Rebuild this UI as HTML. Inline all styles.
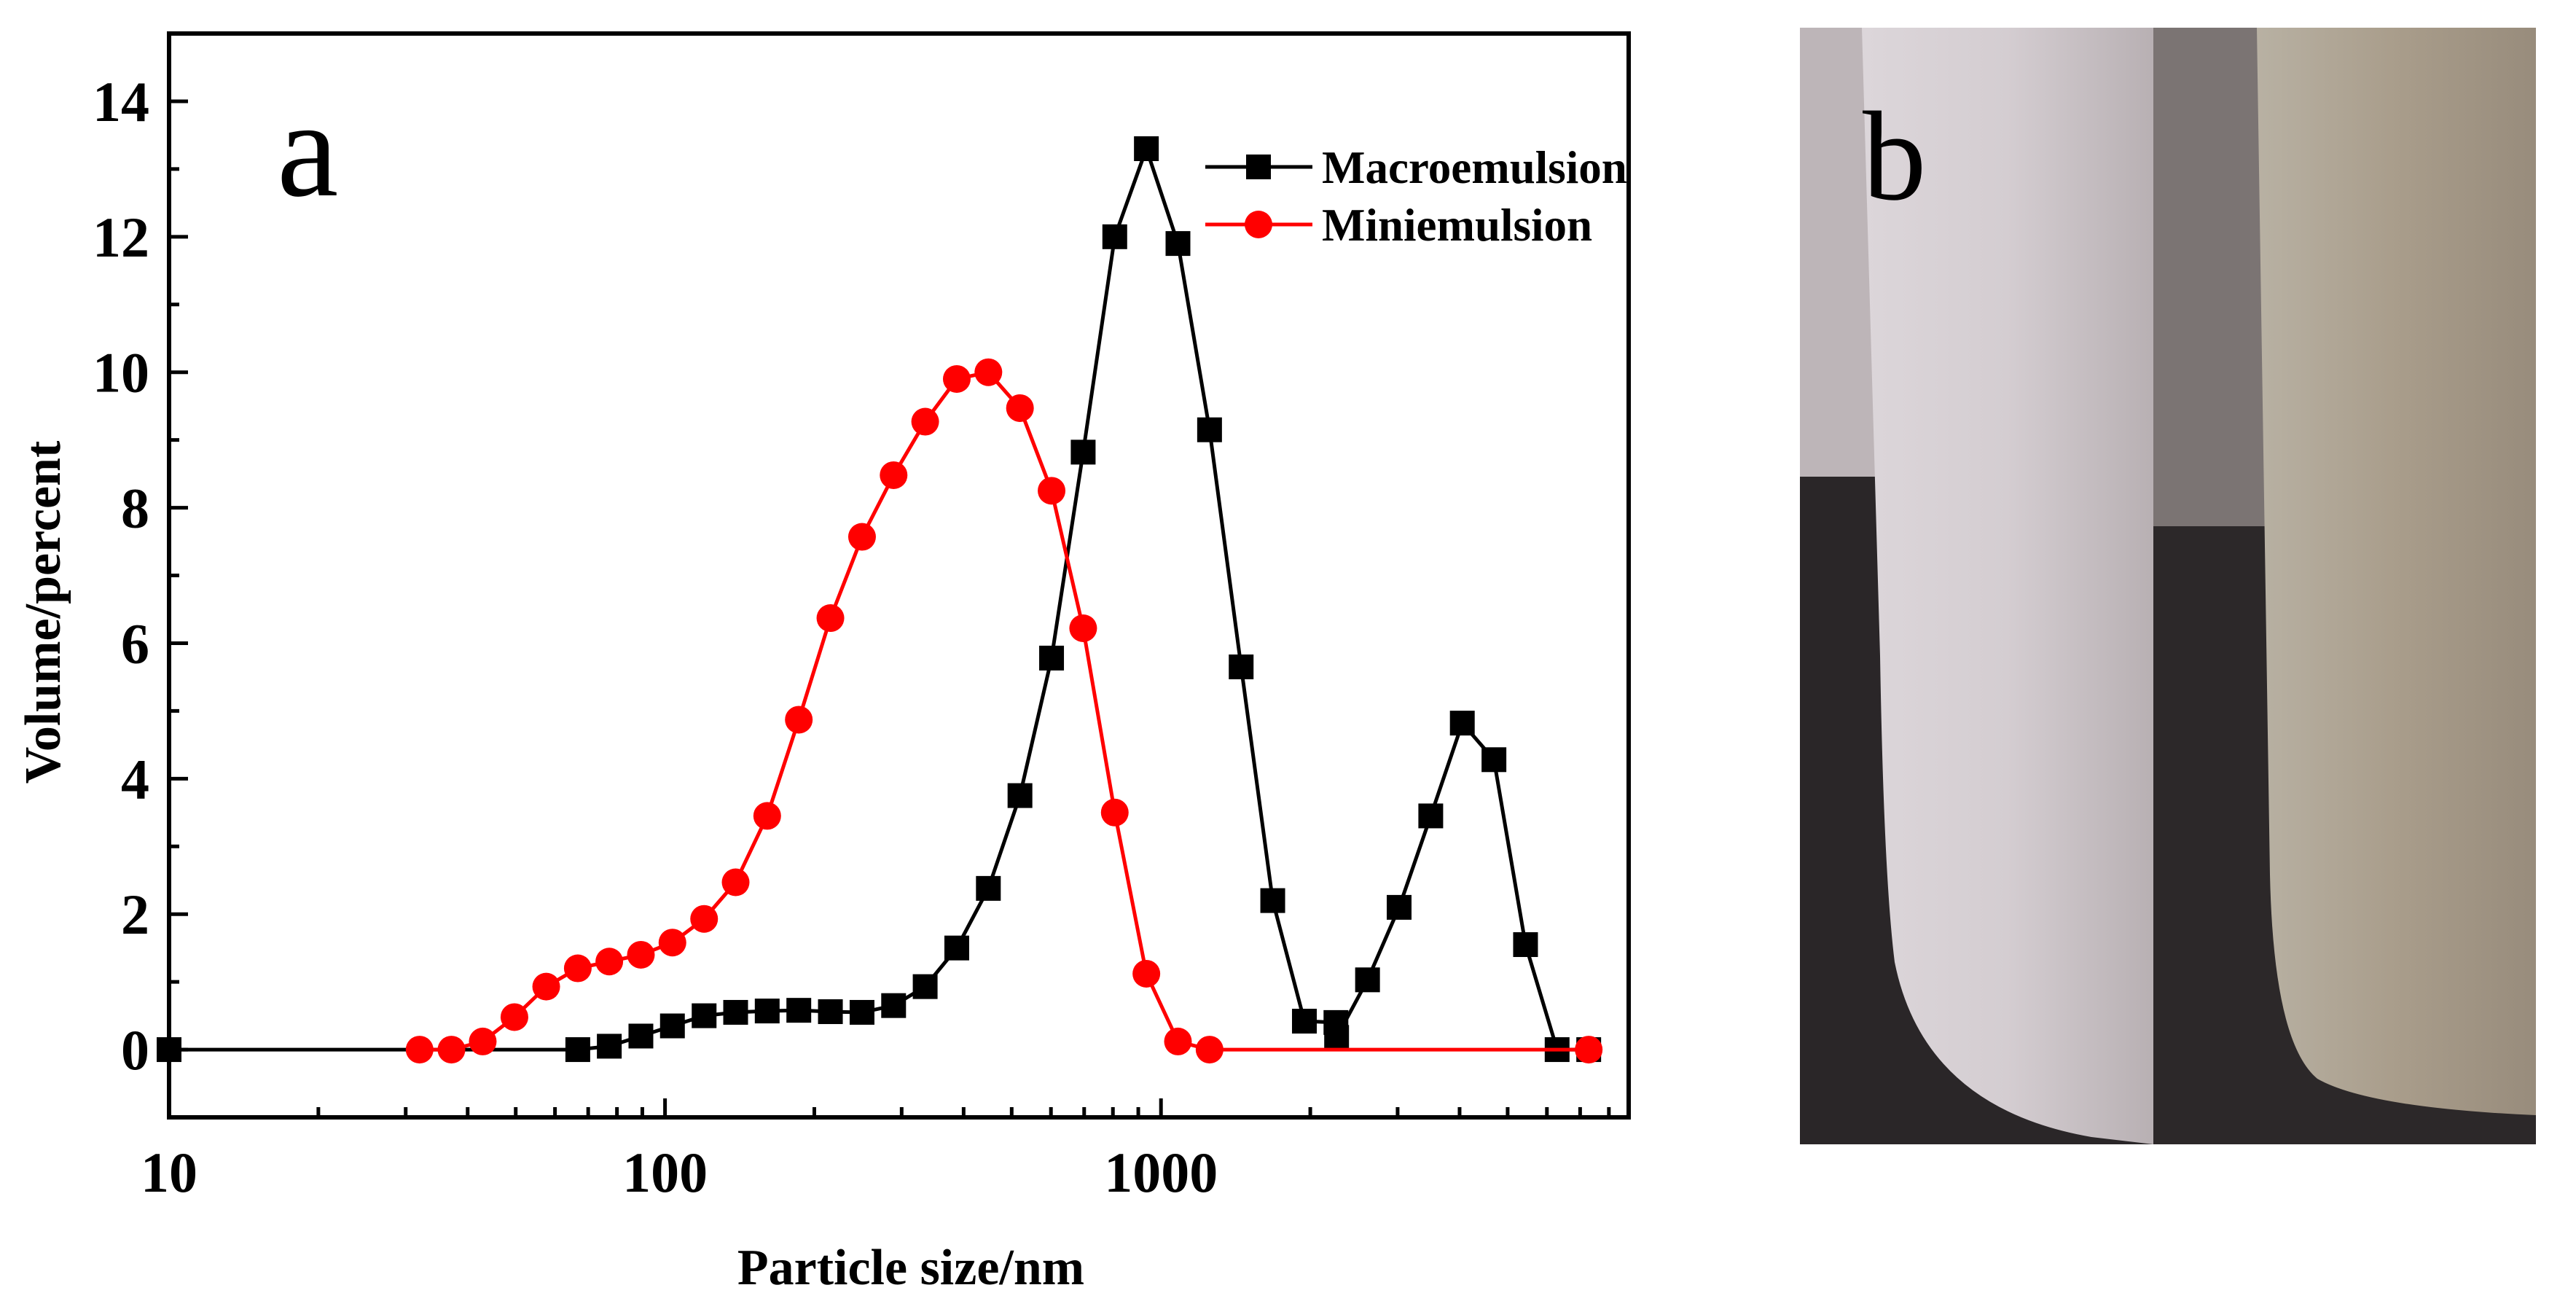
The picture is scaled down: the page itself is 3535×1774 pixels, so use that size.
<!DOCTYPE html>
<html><head><meta charset="utf-8"><style>
html,body{margin:0;padding:0;background:#fff;}
svg{display:block;font-family:"Liberation Serif",serif;}
</style></head><body>
<svg id="fig" width="3535" height="1774" viewBox="0 0 3535 1774" xmlns="http://www.w3.org/2000/svg">
<defs>
<linearGradient id="gl" x1="0" x2="1" y1="0" y2="0"><stop offset="0" stop-color="#dcd6da"/><stop offset="0.5" stop-color="#d4cdd1"/><stop offset="1" stop-color="#b8b0b3"/></linearGradient>
<linearGradient id="gr" x1="0" x2="1" y1="0" y2="0"><stop offset="0" stop-color="#b8b1a3"/><stop offset="0.5" stop-color="#a99d8b"/><stop offset="1" stop-color="#988c7c"/></linearGradient>
</defs>
<g>
<rect x="2470" y="38" width="485" height="1532" fill="#bdb5b8"/>
<rect x="2470" y="654" width="485" height="916" fill="#2a2628"/>
<path d="M2555 38 H2955 V1570 L2870 1560 Q2640 1520 2600 1320 Q2585 1200 2580 900 L2555 38 Z" fill="url(#gl)"/>
<rect x="2955" y="38" width="525" height="1532" fill="#7b7473"/>
<rect x="2955" y="722" width="525" height="848" fill="#2c2829"/>
<path d="M3097 38 H3480 V1530 Q3250 1520 3180 1480 Q3120 1430 3115 1200 L3097 38 Z" fill="url(#gr)"/>
<text x="2556" y="273" font-size="175">b</text>
</g>
<g id="chart"></g>
</svg>
<script>
const macroSizes=[10,66.7,77.2,89.4,103.5,119.9,138.8,160.7,186.1,215.5,249.6,289,334.6,387.5,448.7,519.6,601.7,696.8,806.9,934.4,1082,1253,1451,1680,1946,2253,2260,2609,3021,3499,4051,4692,5433,6291,7285];
const macroValues=[0,0,0.05,0.2,0.35,0.5,0.55,0.57,0.58,0.56,0.55,0.65,0.93,1.5,2.38,3.75,5.78,8.82,12.0,13.3,11.9,9.15,5.65,2.2,0.42,0.4,0.18,1.03,2.1,3.45,4.82,4.28,1.55,0,0];
const miniSizes=[32.0,37.1,42.9,49.7,57.6,66.7,77.2,89.4,103.5,119.9,138.8,160.7,186.1,215.5,249.6,289,334.6,387.5,448.7,519.6,601.7,696.8,806.9,934.4,1082,1253,7285];
const miniValues=[0,0,0.12,0.48,0.93,1.2,1.3,1.4,1.58,1.93,2.47,3.45,4.87,6.37,7.57,8.48,9.27,9.9,10.0,9.47,8.25,6.22,3.5,1.12,0.12,0,0];
const yTicks=[0,2,4,6,8,10,12,14];
const xTicks=[10,100,1000];

const L=232,R=2235,T=46,B=1533;
const xMinLog=1,xMaxLog=Math.log10(8770);
const yMin=-1,yMax=15;
function xs(v){return L+(Math.log10(v)-xMinLog)/(xMaxLog-xMinLog)*(R-L);}
function ys(v){return B-(v-yMin)/(yMax-yMin)*(B-T);}
const NS='http://www.w3.org/2000/svg';
const g=document.getElementById('chart');
function mk(tag,attrs,parent){const e=document.createElementNS(NS,tag);for(const k in attrs)e.setAttribute(k,attrs[k]);(parent||g).appendChild(e);return e;}

const fr=mk('rect',{x:L,y:T,width:R-L,height:B-T,fill:'none',stroke:'#000','stroke-width':6});



for(let v=-1;v<=15;v++){
  const y=ys(v);const major=v%2===0;
  const t=mk('line',{x1:L,x2:L+(major?26:14),y1:y,y2:y,stroke:'#000','stroke-width':5});
  
  
}
yTicks.forEach(v=>{
  const t=mk('text',{x:205,y:ys(v)+27,'font-size':78,'font-weight':'bold','text-anchor':'end'});
  t.textContent=String(v);
  
  
});
for(let d=10;d<=1000;d*=10){
  for(let m=1;m<=9;m++){
    const v=d*m; if(v>8770) break;
    const x=xs(v);const major=m===1;
    const t=mk('line',{x1:x,x2:x,y1:B,y2:B-(major?26:14),stroke:'#000','stroke-width':5});
    
    
  }
}
xTicks.forEach(v=>{
  const t=mk('text',{x:xs(v),y:1635,'font-size':78,'font-weight':'bold','text-anchor':'middle'});
  t.textContent=String(v);
  
  
});
const xt=mk('text',{x:1250,y:1762,'font-size':70,'font-weight':'bold','text-anchor':'middle'});
xt.textContent='Particle size/nm';


const yt=mk('text',{x:0,y:0,'font-size':70,'font-weight':'bold','text-anchor':'middle',transform:'translate(82,840) rotate(-90)'});
yt.textContent='Volume/percent';


const pa=mk('text',{x:380,y:268,'font-size':190});
pa.textContent='a';



function series(sizes,vals,color,shape,name){
  const pts=sizes.map((s,i)=>xs(s)+','+ys(vals[i])).join(' ');
  const pl=mk('polyline',{points:pts,fill:'none',stroke:color,'stroke-width':5,'stroke-linejoin':'round'});
  
  
  sizes.forEach((s,i)=>{
    const x=xs(s),y=ys(vals[i]);let m;
    if(shape==='square') m=mk('rect',{x:x-17,y:y-17,width:34,height:34,fill:color});
    else m=mk('ellipse',{cx:x,cy:y,rx:19,ry:19,fill:color});
    
    
  });
}
series(macroSizes,macroValues,'#000','square','macroemulsion');
series(miniSizes,miniValues,'#ff0000','circle','miniemulsion');

const lg=mk('g',{});


const l1=mk('line',{x1:1654,x2:1801,y1:229,y2:229,stroke:'#000','stroke-width':5},lg);


const s1=mk('rect',{x:1710,y:212,width:34,height:34,fill:'#000'},lg);


const t1=mk('text',{x:1814,y:251,'font-size':63,'font-weight':'bold'},lg);
t1.textContent='Macroemulsion';


const l2=mk('line',{x1:1654,x2:1801,y1:308,y2:308,stroke:'#ff0000','stroke-width':5},lg);


const s2=mk('ellipse',{cx:1727,cy:308,rx:19,ry:19,fill:'#ff0000'},lg);


const t2=mk('text',{x:1814,y:330,'font-size':63,'font-weight':'bold'},lg);
t2.textContent='Miniemulsion';


</script>
</body></html>
